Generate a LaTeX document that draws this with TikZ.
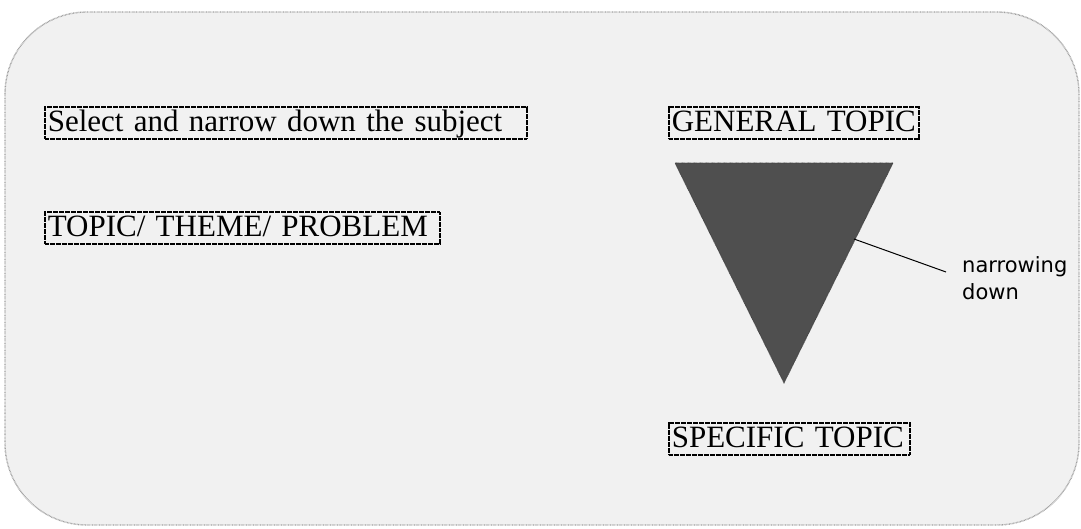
\documentclass[tikz,border=0pt]{standalone}
\usepackage{fontspec}
\setmainfont{Liberation Serif}
\newfontfamily\labelfont{DejaVu Sans}
\definecolor{bgfill}{HTML}{F1F1F1}
\definecolor{bgline}{HTML}{A0A0A0}
\definecolor{trifill}{HTML}{4F4F4F}
\tikzset{
  tbox/.style={draw=black, line width=1.6pt, dash pattern=on 0.7pt off 0.5pt,
    inner xsep=3pt, inner ysep=2pt, anchor=north west, align=left,
    font=\fontsize{31}{32}\selectfont, text height=23pt, text depth=5pt},
  tri/.style={fill=trifill, draw=trifill!80!black, line width=0.8pt, dash pattern=on 0.6pt off 0.6pt},
  leader/.style={draw=black, line width=1pt},
  bgbox/.style={fill=bgfill, draw=bgline, line width=1.4pt, dash pattern=on 0.7pt off 0.7pt, rounded corners=82pt}
}
\begin{document}
\begin{tikzpicture}[x=1pt,y=-1pt]
\useasboundingbox (0,0) rectangle (1081,529);
\draw[bgbox] (5,12) rectangle (1079,525);

\node[tbox, text width=476pt] (select) at (44,106) {Select and narrow down the subject};
\node[tbox, text width=389pt] (topic) at (44,211) {TOPIC/ THEME/ PROBLEM};
\node[tbox, text width=244pt] (general) at (668,106) {GENERAL TOPIC};
\node[tbox, text width=235pt] (specific) at (668,422) {SPECIFIC TOPIC};

\coordinate (tl) at (675,163);
\coordinate (tr) at (893,163);
\coordinate (apex) at (784,383);
\path[tri] (tl) -- (tr) -- (apex) -- cycle;

\coordinate (edge) at (854,239);
\node[font=\labelfont\fontsize{21}{27}\selectfont, align=left, anchor=north west, inner sep=0pt] (narrow) at (962,256) {narrowing\\down};
\coordinate (leadend) at (946,272);
\draw[leader] (edge) -- (leadend);
\end{tikzpicture}
\end{document}
